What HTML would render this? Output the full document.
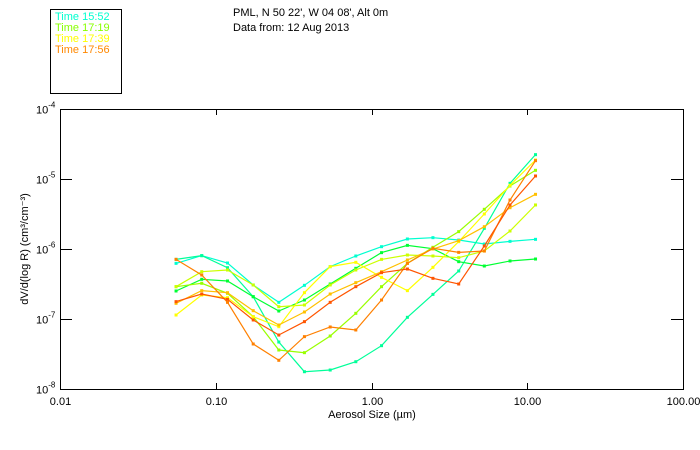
<!DOCTYPE html>
<html><head><meta charset="utf-8"><style>
html,body{margin:0;padding:0;background:#fff;}
svg{display:block;font-family:"Liberation Sans",sans-serif;}
</style></head><body>
<svg id="chart" width="700" height="450" viewBox="0 0 700 450">
<rect x="0" y="0" width="700" height="450" fill="#fff"/>
<g>
<rect x="50.5" y="9.5" width="71" height="84" fill="none" stroke="#000" stroke-width="1"/>
<text x="55" y="20" font-size="11" fill="#00ffd0">Time 15:52</text>
<text x="55" y="31" font-size="11" fill="#88ff00">Time 17:19</text>
<text x="55" y="42" font-size="11" fill="#ffff00">Time 17:39</text>
<text x="55" y="53" font-size="11" fill="#ff8800">Time 17:56</text>
</g>
<text x="233" y="16" font-size="11" fill="#000">PML, N 50 22', W 04 08', Alt 0m</text>
<text x="233" y="31" font-size="11" fill="#000">Data from: 12 Aug 2013</text>
<g id="axes"></g>
<g id="series"></g>
<text x="372" y="418" font-size="11" text-anchor="middle" fill="#000">Aerosol Size (µm)</text>
<text transform="translate(28,249) rotate(-90)" font-size="11" text-anchor="middle" fill="#000">dV/d(log R) (cm³/cm⁻³)</text>
</svg>
<script>
const sizes = [0.0556,0.0813,0.119,0.174,0.254,0.371,0.543,0.793,1.16,1.70,2.48,3.63,5.30,7.75,11.3];
const logS1 = [-6.205,-6.095,-6.20,-6.514,-6.762,-6.519,-6.252,-6.10,-5.967,-5.857,-5.838,-5.872,-5.929,-5.891,-5.862];
const logS2 = [-6.148,-6.095,-6.267,-6.681,-7.329,-7.753,-7.729,-7.610,-7.381,-6.976,-6.648,-6.314,-5.705,-5.062,-4.652];
const logS3 = [-6.600,-6.433,-6.457,-6.681,-6.886,-6.729,-6.500,-6.276,-6.052,-5.948,-5.995,-6.181,-6.243,-6.171,-6.143];
const logS4 = [-6.538,-6.49,-6.633,-6.967,-7.443,-7.481,-7.243,-6.919,-6.538,-6.205,-5.976,-5.752,-5.433,-5.10,-4.876];
const logS5 = [-6.538,-6.324,-6.30,-6.514,-6.824,-6.80,-6.514,-6.30,-6.148,-6.086,-6.10,-6.124,-6.029,-5.743,-5.371];
const logS6 = [-6.943,-6.657,-6.695,-6.967,-7.11,-6.624,-6.252,-6.19,-6.405,-6.595,-6.262,-5.895,-5.50,-5.09,-4.729];
const logS7 = [-6.776,-6.595,-6.624,-6.881,-7.086,-6.90,-6.643,-6.481,-6.324,-6.157,-6.0,-5.881,-5.681,-5.41,-5.219];
const logS8 = [-6.148,-6.371,-6.762,-7.357,-7.59,-7.252,-7.114,-7.157,-6.729,-6.205,-5.99,-6.048,-6.029,-5.30,-4.738];
const logS9 = [-6.752,-6.643,-6.719,-7.014,-7.229,-7.038,-6.762,-6.538,-6.338,-6.286,-6.419,-6.50,-5.957,-5.371,-4.957];
const seriesList = [logS1,logS2,logS3,logS4,logS5,logS6,logS7,logS8,logS9];
const seriesColors = ['#00ffd0','#00ff99','#00ff33','#99ff00','#ccff00','#ffff00','#ffc000','#ff8000','#ff5500'];
const xTickLabels = ['0.01','0.10','1.00','10.00','100.00'];
const yTickExps = ['-4','-5','-6','-7','-8'];

const NS='http://www.w3.org/2000/svg';
const X0=60, X1=683, Y0=109, Y1=389;
const xMin=-2, xMax=2, yMin=-8, yMax=-4;
function xScale(v){return X0+(Math.log10(v)-xMin)/(xMax-xMin)*(X1-X0);}
function yScale(lv){return Y0+(yMax-lv)/(yMax-yMin)*(Y1-Y0);}
function mk(tag,attrs,parent){const e=document.createElementNS(NS,tag);for(const k in attrs)e.setAttribute(k,attrs[k]);parent.appendChild(e);return e;}

const axes=document.getElementById('axes');
const frame=mk('rect',{x:X0+0.5,y:Y0+0.5,width:X1-X0,height:Y1-Y0,fill:'none',stroke:'#000','stroke-width':1},axes);


xTickLabels.forEach(function(lbl){
  const x=Math.round(xScale(parseFloat(lbl)))+0.5;
  const t1=mk('line',{x1:x,x2:x,y1:Y1,y2:Y1-6,stroke:'#000'},axes);
  
  
  const t2=mk('line',{x1:x,x2:x,y1:Y0,y2:Y0+6,stroke:'#000'},axes);
  
  
  const tx=mk('text',{x:x,y:Y1+16,'font-size':11,'text-anchor':'middle',fill:'#000'},axes);
  tx.textContent=lbl;
  
  
});
yTickExps.forEach(function(ex){
  const y=Math.round(yScale(parseFloat(ex)))+0.5;
  const t1=mk('line',{x1:X0,x2:X0+12,y1:y,y2:y,stroke:'#000'},axes);
  
  
  const t2=mk('line',{x1:X1,x2:X1-12,y1:y,y2:y,stroke:'#000'},axes);
  
  
  const tx=mk('text',{x:36,y:y+4,'font-size':11,fill:'#000'},axes);
  tx.textContent='10';
  
  
  const sp=mk('tspan',{dy:-6,'font-size':8},tx);
  sp.textContent=ex;
});

const sg=document.getElementById('series');
seriesList.forEach(function(arr,i){
  const g=mk('g',{},sg);
  
  
  const pts=arr.map(function(v,j){return xScale(sizes[j]).toFixed(1)+','+yScale(v).toFixed(1);}).join(' ');
  const pl=mk('polyline',{points:pts,fill:'none',stroke:seriesColors[i],'stroke-width':1.2},g);
  
  
  arr.forEach(function(v,j){
    const m=mk('rect',{x:xScale(sizes[j])-1.5,y:yScale(v)-1.5,width:3,height:3,fill:seriesColors[i]},g);
    
    
  });
});
</script>
</body></html>
